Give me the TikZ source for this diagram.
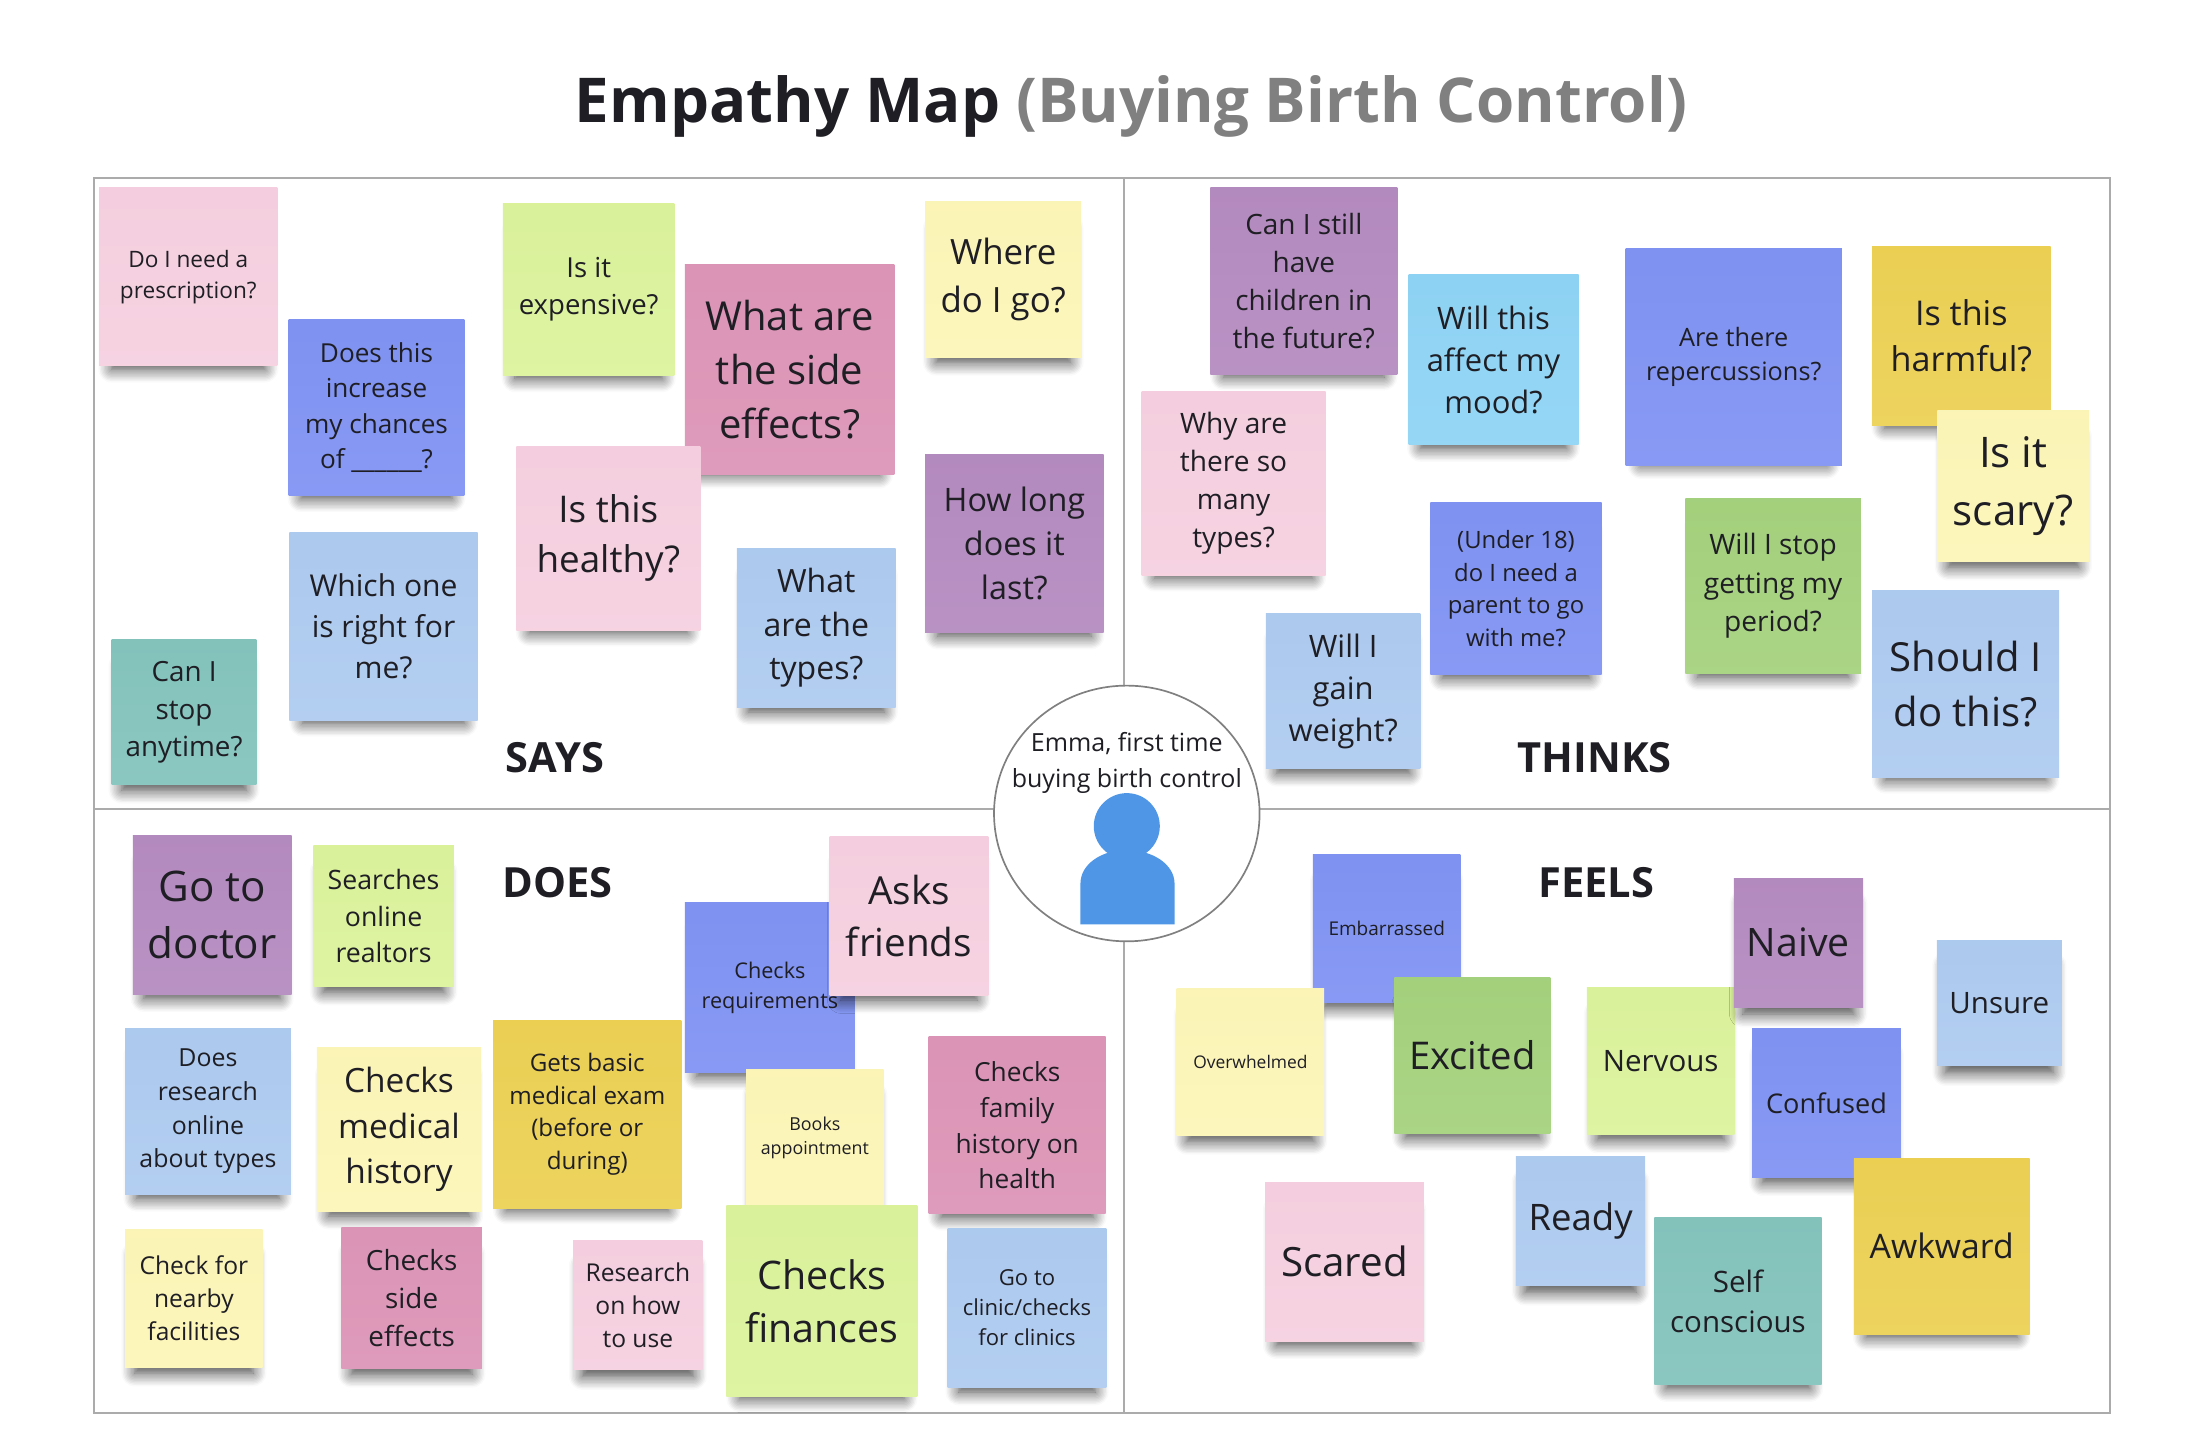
\documentclass[tikz,border=0pt]{standalone}
\usepackage{fontspec}
\setmainfont{Open Sans}
\usetikzlibrary{shadows.blur,shapes.geometric}
\definecolor{notepink}{HTML}{F6D0E0}
\definecolor{noteperi}{HTML}{8093F3}
\definecolor{notelime}{HTML}{DCF39C}
\definecolor{noterose}{HTML}{DD95B7}
\definecolor{noteyellow}{HTML}{FDF6B8}
\definecolor{notepurple}{HTML}{B58BC0}
\definecolor{noteblue}{HTML}{AECBF0}
\definecolor{noteteal}{HTML}{84C4BD}
\definecolor{notesky}{HTML}{8FD4F5}
\definecolor{notegold}{HTML}{ECD154}
\definecolor{notegreen}{HTML}{A5D27D}
\definecolor{boardline}{HTML}{ABABAB}
\definecolor{persona}{HTML}{4F97E6}
\definecolor{inktext}{HTML}{1E1E24}
\newcommand{\notefont}[1]{\pgfmathsetmacro{\notebase}{#1*1.36}\fontsize{#1}{\notebase}\selectfont}
\tikzset{
  note/.style 2 args={top color=#1!99!black, bottom color=#1!94!white, align=center, inner sep=0pt, text=inktext,
    font=\notefont{#2},
    blur shadow={shadow xshift=0pt, shadow yshift=-13pt, shadow scale=.86, shadow blur steps=10, shadow blur radius=11pt, shadow opacity=75}},
  head/.style={font=\bfseries\fontsize{29.6}{36}\selectfont, text=inktext, inner sep=0pt}
}
\begin{document}
\begin{tikzpicture}[x=1pt,y=-1pt]
  \useasboundingbox (0,0) rectangle (1568,1035);
  \node[inner sep=0pt, font=\bfseries\fontsize{44}{52}\selectfont, text=inktext] (title) at (805,75.5) {Empathy Map \textcolor{gray}{(Buying Birth Control)}};

  % board
  \coordinate (nw) at (67,127);
  \coordinate (se) at (1502,1006);
  \coordinate (top) at (800,127);
  \coordinate (bottom) at (800,1006);
  \coordinate (left) at (67,576);
  \coordinate (right) at (1502,576);
  \draw[boardline, line width=1.4pt] (nw) rectangle (se);
  \draw[boardline, line width=1.4pt] (top) -- (bottom);
  \draw[boardline, line width=1.4pt] (left) -- (right);

  % says
  \node[note={notepink}{16.1}, minimum size=127pt] (prescription) at (134,197) {Do I need a\\prescription?};
  \node[note={noteperi}{18.6}, minimum size=125pt] (increase) at (268,290) {Does this\\increase\\my chances\\of \_\_\_\_\_\_?};
  \node[note={notelime}{19.6}, minimum size=122pt] (expensive) at (419,206) {Is it\\expensive?};
  \node[note={noterose}{28.4}, minimum size=149pt] (sideeffects) at (562,263) {What are\\the side\\effects?};
  \node[note={noteyellow}{24.8}, minimum size=111pt] (where) at (714,199) {Where\\do I go?};
  \node[note={notepink}{26.2}, minimum size=131pt] (healthy) at (433,383) {Is this\\healthy?};
  \node[note={notepurple}{23}, minimum size=127pt] (howlong) at (722,387) {How long\\does it\\last?};
  \node[note={noteblue}{22.8}, minimum size=113pt] (types) at (581,447) {What\\are the\\types?};
  \node[note={noteblue}{21.4}, minimum size=134pt] (rightforme) at (273,446) {Which one\\is right for\\me?};
  \node[note={noteteal}{19.8}, minimum size=103pt] (anytime) at (131,507) {Can I\\stop\\anytime?};
  \node[head] (says) at (395,539) {SAYS};

  % thinks
  \node[note={notepurple}{19.9}, minimum size=133pt] (children) at (928,200) {Can I still\\have\\children in\\the future?};
  \node[note={notesky}{22}, minimum size=121pt] (mood) at (1063,256) {Will this\\affect my\\mood?};
  \node[note={noteperi}{18}, minimum size=154pt] (repercussions) at (1234,254) {Are there\\repercussions?};
  \node[note={notegold}{24.3}, minimum size=127pt] (harmful) at (1396,239) {Is this\\harmful?};
  \node[note={noteyellow}{30}, minimum size=108pt] (scary) at (1433,346) {Is it\\scary?};
  \node[note={notepink}{20}, minimum size=131pt] (manytypes) at (878,344) {Why are\\there so\\many\\types?};
  \node[note={noteperi}{17}, minimum size=122pt] (under) at (1079,419) {(Under 18)\\do I need a\\parent to go\\with me?};
  \node[note={notegreen}{20}, minimum size=125pt] (period) at (1262,417) {Will I stop\\getting my\\period?};
  \node[note={noteblue}{28.5}, minimum size=133pt] (dothis) at (1399,487) {Should I\\do this?};
  \node[note={noteblue}{22}, minimum size=110pt] (weight) at (956,492) {Will I\\gain\\weight?};
  \node[head] (thinks) at (1135,539) {THINKS};

  % does
  \node[note={notepurple}{30}, minimum size=113pt] (doctor) at (151,651) {Go to\\doctor};
  \node[note={notelime}{19}, minimum size=100pt] (realtors) at (273,652) {Searches\\online\\realtors};
  \node[head] (does) at (397,628) {DOES};
  \node[note={noteperi}{15.4}, minimum size=121pt] (requirements) at (548,703) {Checks\\requirements};
  \node[note={notepink}{27.5}, minimum size=113pt] (friends) at (647,652) {Asks\\friends};
  \node[note={noteblue}{17.7}, minimum size=118pt] (research) at (148,791) {Does\\research\\online\\about types};
  \node[note={noteyellow}{23.8}, minimum size=117pt] (medical) at (284,804) {Checks\\medical\\history};
  \node[note={notegold}{17.2}, minimum size=134pt] (exam) at (418,793) {Gets basic\\medical exam\\(before or\\during)};
  \node[note={noteyellow}{12.7}, minimum size=98pt] (appointment) at (580,810) {Books\\appointment};
  \node[note={noterose}{18.7}, minimum size=126pt] (family) at (724,801) {Checks\\family\\history on\\health};
  \node[note={noteyellow}{17.5}, minimum size=98pt] (nearby) at (138,924) {Check for\\nearby\\facilities};
  \node[note={noterose}{19.8}, minimum size=100pt] (side) at (293,924) {Checks\\side\\effects};
  \node[note={notepink}{17.5}, minimum size=92pt] (howto) at (454,929) {Research\\on how\\to use};
  \node[note={notelime}{28}, minimum size=136pt] (finances) at (585,926) {Checks\\finances};
  \node[note={noteblue}{15.7}, minimum size=113pt] (clinic) at (731,931) {Go to\\clinic/checks\\for clinics};

  % feels
  \node[note={noteperi}{13.5}, minimum size=105pt] (embarrassed) at (987,661) {Embarrassed};
  \node[note={noteyellow}{12.4}, minimum size=105pt] (overwhelmed) at (890,756) {Overwhelmed};
  \node[note={notegreen}{27.2}, minimum size=111pt] (excited) at (1048,751) {Excited};
  \node[note={notelime}{21}, minimum size=105pt] (nervous) at (1182,755) {Nervous};
  \node[note={notepurple}{27.9}, minimum size=92pt] (naive) at (1280,671) {Naive};
  \node[note={noteblue}{21}, minimum size=89pt] (unsure) at (1423,714) {Unsure};
  \node[note={noteperi}{19.3}, minimum size=106pt] (confused) at (1300,785) {Confused};
  \node[note={notepink}{28.7}, minimum size=113pt] (scared) at (957,898) {Scared};
  \node[note={noteblue}{26}, minimum size=92pt] (ready) at (1125,869) {Ready};
  \node[note={noteteal}{21}, minimum size=119pt] (conscious) at (1237,926) {Self\\conscious};
  \node[note={notegold}{24}, minimum size=125pt] (awkward) at (1382,887) {Awkward};
  \node[head] (feels) at (1136,628) {FEELS};

  % persona in the middle
  \node[ellipse, draw=gray, fill=white, line width=1.2pt, inner sep=0pt, minimum width=189pt, minimum height=182pt] (emma) at (802,579) {};
  \node[align=center, inner sep=0pt, text=inktext, font=\fontsize{17.8}{25}\selectfont] (who) at (802,543) {Emma, first time\\buying birth control};
  \fill[persona] (802,588) circle (23.5);
  \fill[persona] (769,658) -- (769,629) .. controls (769,615) and (784,605) .. (802,605) .. controls (820,605) and (836,615) .. (836,629) -- (836,658) -- cycle;
\end{tikzpicture}
\end{document}
